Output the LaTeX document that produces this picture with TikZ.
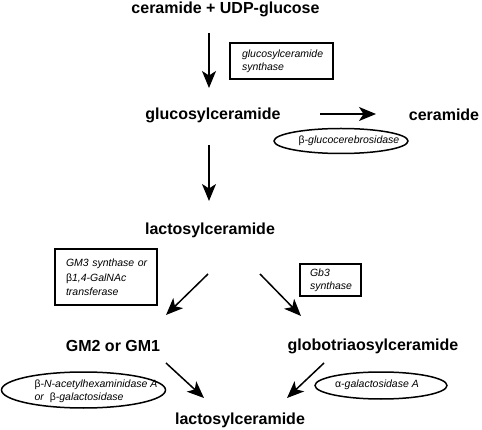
\documentclass[tikz,border=0pt]{standalone}
\usepackage{fontspec}
\setmainfont{Liberation Sans}
\usepackage{tikz}
\usetikzlibrary{arrows.meta}
\newcommand{\linecolor}{black}
\newcommand{\thickness}{1.5pt}
\newcommand{\cmpfont}{\bfseries\fontsize{16}{19}\selectfont}
\newcommand{\enzfont}{\itshape\fontsize{10.5}{13}\selectfont}

\begin{document}
\begin{tikzpicture}[x=1pt, y=-1pt,
  cmp/.style={font=\cmpfont, inner sep=0pt},
  enz/.style={font=\enzfont, align=left, inner sep=0pt},
  enzbox/.style={draw=\linecolor, line width=\thickness, font=\enzfont, align=left, inner ysep=0pt},
  conv/.style={draw=\linecolor, line width=\thickness, -{Stealth[length=17pt, width=14pt, inset=4.5pt]}},
  ring/.style={draw=\linecolor, line width=\thickness}]
\useasboundingbox (0,0) rectangle (482,430);
%compounds
\node[cmp] (sub) at (225.5, 9) {ceramide + UDP-glucose};
\node[cmp] (glc) at (213, 115) {glucosylceramide};
\node[cmp] (cer) at (444, 115) {ceramide};
\node[cmp] (lac) at (210, 230) {lactosylceramide};
\node[cmp] (gm) at (113, 346) {GM2 or GM1};
\node[cmp] (gb) at (373, 346) {globotriaosylceramide};
\node[cmp] (lacb) at (240, 420) {lactosylceramide};
%arrow ends
\coordinate (a1) at (209, 33);
\coordinate (b1) at (209, 88);
\coordinate (a2) at (320, 114);
\coordinate (b2) at (376, 114);
\coordinate (a3) at (209, 145);
\coordinate (b3) at (209, 201);
\coordinate (a4) at (208, 274);
\coordinate (b4) at (166, 315);
\coordinate (a5) at (260, 274);
\coordinate (b5) at (301, 316);
\coordinate (a6) at (166, 363);
\coordinate (b6) at (204, 398);
\coordinate (a7) at (324, 363);
\coordinate (b7) at (287, 398);
\draw[conv] (a1) -- (b1);
\draw[conv] (a2) -- (b2);
\draw[conv] (a3) -- (b3);
\draw[conv] (a4) -- (b4);
\draw[conv] (a5) -- (b5);
\draw[conv] (a6) -- (b6);
\draw[conv] (a7) -- (b7);
%synthases
\node[enzbox, text width=87pt, inner xsep=8pt, minimum height=36pt] (gcs) at (281.5, 61) {\hspace*{4pt}glucosylceramide\\\hspace*{4pt}synthase};
\node[enzbox, text width=88pt, inner xsep=7pt, minimum height=56pt] (gmt) at (106, 277) {\hspace*{4pt}GM3 synthase or\\[2pt]\hspace*{4pt}{\upshape β}1,4-GalNAc\\[1pt]\hspace*{4pt}transferase};
\node[enzbox, text width=49pt, inner xsep=6pt, minimum height=32pt] (gbs) at (330.5, 280) {\hspace*{4pt}Gb3\\\hspace*{4pt}synthase};
%hydrolases
\node[enz] (gba) at (349, 141) {{\upshape β}-glucocerebrosidase};
\draw[ring] (341, 141) ellipse [x radius=67, y radius=12.5];
\node[enz] (hex) at (96, 391) {{\upshape β}-\textit{N}-acetylhexaminidase A\\or\ \ {\upshape β}-galactosidase};
\draw[ring] (83.5, 390) ellipse [x radius=82, y radius=18];
\node[enz] (gla) at (377, 385) {{\upshape α}-galactosidase A};
\draw[ring] (381, 385.5) ellipse [x radius=66, y radius=13.5];
\end{tikzpicture}
\end{document}
